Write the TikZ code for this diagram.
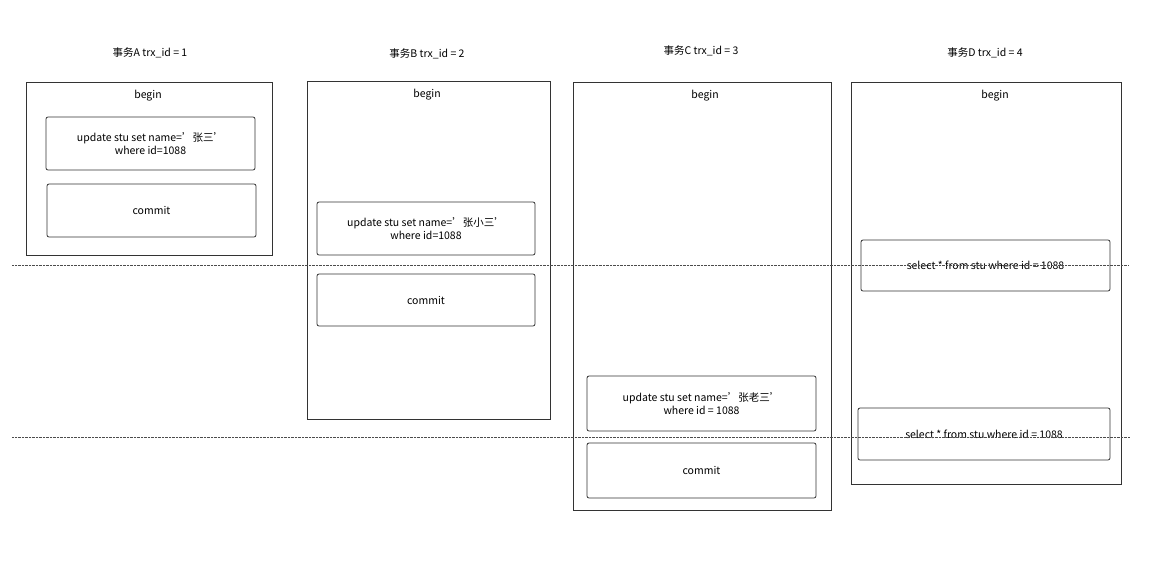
\documentclass[tikz,border=0pt]{standalone}
\usepackage{fontspec}
\setmainfont{Noto Sans CJK SC}
\usetikzlibrary{positioning}
\begin{document}
\begin{tikzpicture}[x=1pt,y=-1pt,font=\fontsize{10.5}{12.5}\selectfont]
\tikzstyle{trx}=[draw=black!80,thick,inner sep=0pt]
\tikzstyle{stmt}=[draw=black!80,thick,rounded corners=2pt,align=center,inner sep=0pt]
\tikzstyle{lbl}=[inner sep=1pt]
\useasboundingbox (0,0) rectangle (1152,566);
% transaction A
\node[lbl] (ta) at (150,53) {事务A trx\_id = 1};
\node[trx,minimum width=246,minimum height=173] (A) at (149,168.5) {};
\node[lbl] (ab) at (148,96) {begin};
\node[stmt,minimum width=209,minimum height=53] (a1) at (150.5,143.5) {update stu set name='张三'\\where id=1088};
\node[stmt,minimum width=209,minimum height=53] (a2) at (151.5,210.5) {commit};
% transaction B
\node[lbl] (tb) at (427,54) {事务B trx\_id = 2};
\node[trx,minimum width=243,minimum height=338] (B) at (428.5,250) {};
\node[lbl] (bb) at (427,95) {begin};
\node[stmt,minimum width=218,minimum height=53] (b1) at (426,228.5) {update stu set name='张小三'\\where id=1088};
\node[stmt,minimum width=218,minimum height=52] (b2) at (426,300) {commit};
% transaction C
\node[lbl] (tc) at (701,51) {事务C trx\_id = 3};
\node[trx,minimum width=258,minimum height=428] (C) at (702,296) {};
\node[lbl] (cb) at (705,96) {begin};
\node[stmt,minimum width=229,minimum height=55] (c1) at (701.5,403.5) {update stu set name='张老三'\\where id = 1088};
\node[stmt,minimum width=229,minimum height=55] (c2) at (701.5,470.5) {commit};
% transaction D
\node[lbl] (td) at (985,53) {事务D trx\_id = 4};
\node[trx,minimum width=270,minimum height=402] (D) at (986,283) {};
\node[lbl] (db) at (995,96) {begin};
\node[stmt,minimum width=249,minimum height=51] (d1) at (985.5,265.5) {select * from stu where id = 1088};
\node[stmt,minimum width=252,minimum height=52] (d2) at (984,434) {select * from stu where id = 1088};
% time lines
\coordinate (l1a) at (12,265); \coordinate (l1b) at (1128,265);
\coordinate (l2a) at (12,437); \coordinate (l2b) at (1130,437);
\draw[densely dotted,black!70] (l1a) -- (l1b);
\draw[densely dotted,black!70] (l2a) -- (l2b);
\end{tikzpicture}
\end{document}
